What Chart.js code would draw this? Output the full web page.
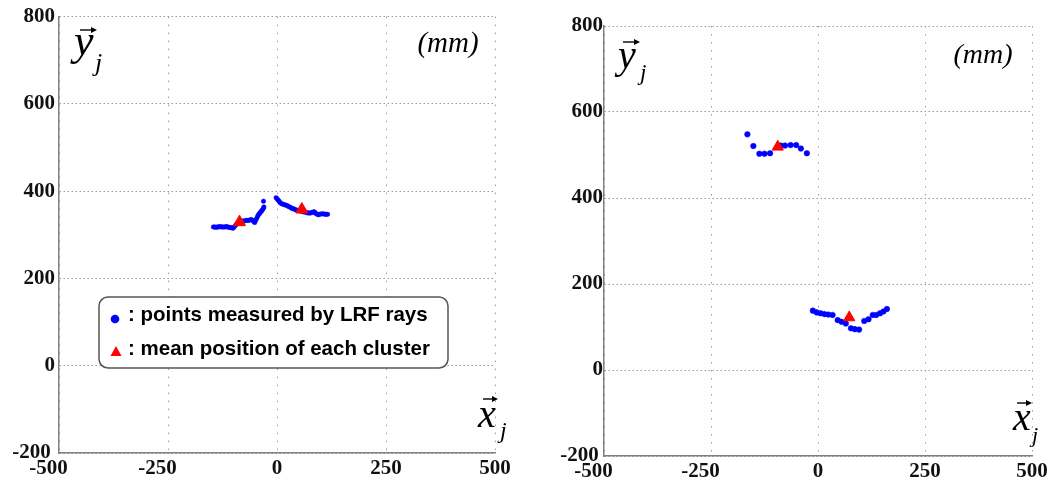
<!DOCTYPE html>
<html>
<head>
<meta charset="utf-8">
<script src="https://cdn.jsdelivr.net/npm/chart.js@4.4.1/dist/chart.umd.min.js"></script>
<style>
  body { margin: 0; background: #fff; }
  #wrap { position: relative; width: 1051px; height: 487px; }
  canvas { position: absolute; top: 0; }
</style>
</head>
<body>
<div id="wrap">
  <canvas id="chartLeft" width="525" height="487" style="left:0"></canvas>
  <canvas id="chartRight" width="526" height="487" style="left:525px"></canvas>
</div>
<script>
// axis ticks (mm)
var xTicks = [-500, -250, 0, 250, 500];
var yTicks = [-200, 0, 200, 400, 600, 800];

// left plot: points measured by LRF rays
var leftPointsX = [-146, -143, -140, -137, -134, -131, -128, -125, -122, -119, -116, -113, -110, -107, -104, -101,
    -98, -95, -92, -89, -86, -83, -80, -77, -74, -71, -68, -65, -62, -59, -56, -53, -51, -49, -47, -45, -43,
    -41, -39, -37, -35, -33, -31, -30, -31,
    -2, 0, 2, 4, 6, 8, 11, 14, 17, 20, 23, 26, 29, 32, 35, 38, 41, 44, 47, 50, 53, 56, 59, 62, 65, 68, 71,
    74, 77, 80, 83, 85, 87, 89, 92, 95, 98, 101, 104, 107, 110, 113, 116];
var leftPointsY = [318, 318, 317, 318, 318, 319, 318, 318, 318, 318, 319, 318, 317, 317, 316, 315,
    318, 322, 325, 327, 329, 330, 331, 332, 332, 333, 333, 333, 334, 335, 333, 330, 328, 333, 337, 341, 345,
    348, 350, 353, 355, 358, 361, 364, 377,
    385, 383, 380, 378, 375, 373, 371, 370, 369, 368, 367, 365, 364, 362, 360, 360, 358, 357, 356, 356, 355, 354, 353, 352, 352, 351, 350,
    350, 350, 351, 352, 353, 351, 349, 347, 346, 347, 348, 348, 348, 347, 347, 347];
// left plot: mean position of each cluster
var leftMeanX = [-86, 57];
var leftMeanY = [329, 358];

// right plot: points measured by LRF rays
var rightPointsX = [-165, -151, -137, -125, -112, -87, -77, -64, -51, -40, -26,
    -12, -3, 6, 15, 24, 34, 46, 55, 65, 77, 86, 96, 108, 118, 128, 136, 145, 153, 161];
var rightPointsY = [548, 521, 503, 503, 504, 522, 522, 523, 523, 515, 504,
    138, 134, 132, 130, 129, 128, 116, 112, 108, 97, 95, 94, 114, 118, 128, 128, 132, 136, 142];
// right plot: mean position of each cluster
var rightMeanX = [-94, 73];
var rightMeanY = [519, 122];

var legendLabels = [': points measured by LRF rays', ': mean position of each cluster'];

function pairs(xs, ys) {
    return xs.map(function (x, i) { return {x: x, y: ys[i]}; });
}

function arrow(ctx, x1, x2, y) {
    ctx.beginPath();
    ctx.moveTo(x1, y);
    ctx.lineTo(x2 - 3, y);
    ctx.lineWidth = 1.4;
    ctx.strokeStyle = '#000';
    ctx.stroke();
    ctx.beginPath();
    ctx.moveTo(x2, y);
    ctx.lineTo(x2 - 6, y - 3);
    ctx.lineTo(x2 - 6, y + 3);
    ctx.closePath();
    ctx.fill();
}

// draws the vector labels, the unit and (optionally) the boxed legend
function makeTextPlugin(spec) {
    return {
        id: 'figText',
        afterDraw: function (chart) {
            var ctx = chart.ctx;
            ctx.save();
            ctx.fillStyle = '#000';
            ctx.textAlign = 'left';
            ctx.textBaseline = 'alphabetic';
            spec.texts.forEach(function (t) {
                ctx.font = t.font;
                ctx.textAlign = t.align || 'left';
                ctx.fillText(t.text, t.x, t.y);
            });
            spec.arrows.forEach(function (a) { arrow(ctx, a[0], a[1], a[2]); });

            if (spec.legend) {
                var b = spec.legend;
                ctx.beginPath();
                ctx.roundRect(b.x, b.y, b.w, b.h, 9);
                ctx.fillStyle = '#fff';
                ctx.fill();
                ctx.lineWidth = 1.5;
                ctx.strokeStyle = '#555';
                ctx.stroke();

                ctx.fillStyle = '#0000ff';
                ctx.beginPath();
                ctx.arc(b.x + 16, b.y + 22, 4.3, 0, Math.PI * 2);
                ctx.fill();

                ctx.fillStyle = '#ff0000';
                ctx.beginPath();
                ctx.moveTo(b.x + 17, b.y + 49);
                ctx.lineTo(b.x + 22.5, b.y + 59);
                ctx.lineTo(b.x + 11.5, b.y + 59);
                ctx.closePath();
                ctx.fill();

                ctx.fillStyle = '#000';
                ctx.textAlign = 'left';
                ctx.font = 'bold 20.5px "Liberation Sans", Arial, sans-serif';
                ctx.fillText(legendLabels[0], b.x + 29, b.y + 24);
                ctx.fillText(legendLabels[1], b.x + 29, b.y + 58);
            }
            ctx.restore();
        }
    };
}

function makeConfig(ptsX, ptsY, meanX, meanY, lay, spec) {
    var tickFont = {family: '"Liberation Serif", "Times New Roman", serif', size: 21, weight: 'bold'};
    return {
        type: 'scatter',
        data: {
            datasets: [{
                label: 'mean position of each cluster',
                data: pairs(meanX, meanY),
                pointStyle: 'triangle',
                pointRadius: lay.triRadius,
                backgroundColor: '#ff0000',
                borderColor: '#ff0000',
                borderWidth: 1,
                order: 1
            }, {
                label: 'points measured by LRF rays',
                data: pairs(ptsX, ptsY),
                pointStyle: 'circle',
                pointRadius: lay.dotRadius,
                backgroundColor: '#0000ff',
                borderColor: '#0000ff',
                borderWidth: 0.5,
                order: 2
            }]
        },
        options: {
            responsive: false,
            animation: false,
            layout: {padding: {left: 0, right: lay.right, top: lay.top, bottom: 0}},
            plugins: {legend: {display: false}, tooltip: {enabled: false}},
            scales: {
                x: {
                    type: 'linear',
                    min: -500,
                    max: 500,
                    afterBuildTicks: function (axis) {
                        axis.ticks = xTicks.map(function (v) { return {value: v}; });
                    },
                    afterFit: function (axis) { axis.height = lay.xHeight; },
                    grid: {color: '#9a9a9a', lineWidth: 1, drawTicks: false},
                    border: {display: true, color: '#808080', width: 1.5, dash: [1.5, 6.5]},
                    ticks: {
                        color: '#111', font: tickFont, padding: 3, maxRotation: 0, autoSkip: false,
                        callback: function (v) { return v < 0 ? v + '\u2002\u2002' : '' + v; }
                    }
                },
                y: {
                    type: 'linear',
                    min: -200,
                    max: 800,
                    afterBuildTicks: function (axis) {
                        axis.ticks = yTicks.map(function (v) { return {value: v}; });
                    },
                    afterFit: function (axis) { axis.width = lay.yWidth; },
                    grid: {color: '#9a9a9a', lineWidth: 1, drawTicks: false},
                    border: {display: true, color: '#808080', width: 1.5, dash: [1.5, 2.5]},
                    ticks: {
                        color: '#111', font: tickFont, padding: lay.yPad, autoSkip: false,
                        callback: function (v) { return v < 0 ? v + '\u2009' : '' + v; }
                    }
                }
            }
        },
        plugins: [makeTextPlugin(spec)]
    };
}

document.addEventListener('DOMContentLoaded', function () {
    var serifItalic = '"Liberation Serif", "Times New Roman", serif';

    var leftSpec = {
        texts: [
            {text: 'y', font: 'italic 44px ' + serifItalic, x: 74, y: 55},
            {text: 'j', font: 'italic 26px ' + serifItalic, x: 95, y: 71},
            {text: '(mm)', font: 'italic 29px ' + serifItalic, x: 448, y: 52, align: 'center'},
            {text: 'x', font: 'italic 40px ' + serifItalic, x: 478, y: 427},
            {text: 'j', font: 'italic 24px ' + serifItalic, x: 500, y: 438}
        ],
        arrows: [[80, 97, 30], [483, 498, 399]],
        legend: {x: 99, y: 297, w: 349, h: 71}
    };

    var rightSpec = {
        texts: [
            {text: 'y', font: 'italic 40px ' + serifItalic, x: 93, y: 68},
            {text: 'j', font: 'italic 23px ' + serifItalic, x: 115, y: 80},
            {text: '(mm)', font: 'italic 28px ' + serifItalic, x: 458, y: 63, align: 'center'},
            {text: 'x', font: 'italic 40px ' + serifItalic, x: 488, y: 430},
            {text: 'j', font: 'italic 22px ' + serifItalic, x: 507, y: 442}
        ],
        arrows: [[98, 115, 42], [492, 507, 403]],
        legend: null
    };

    new Chart(document.getElementById('chartLeft'),
        makeConfig(leftPointsX, leftPointsY, leftMeanX, leftMeanY,
            {right: 30, top: 16, yWidth: 59, xHeight: 34, yPad: 4, dotRadius: 2.2, triRadius: 7}, leftSpec));

    new Chart(document.getElementById('chartRight'),
        makeConfig(rightPointsX, rightPointsY, rightMeanX, rightMeanY,
            {right: 19, top: 26, yWidth: 79, xHeight: 31, yPad: 1, dotRadius: 2.8, triRadius: 6.5}, rightSpec));
});
</script>
</body>
</html>
